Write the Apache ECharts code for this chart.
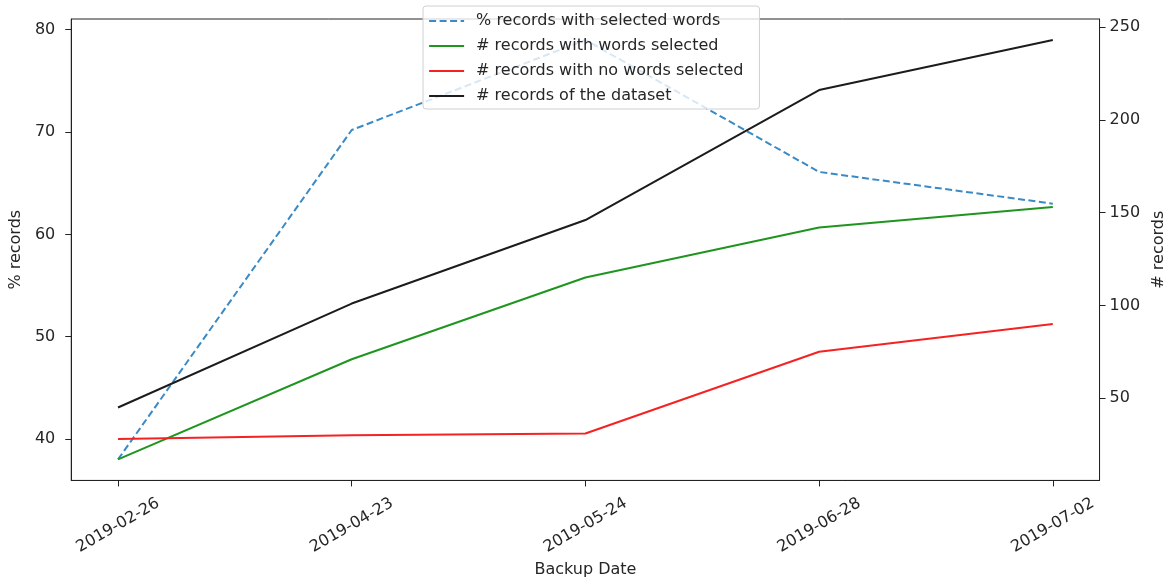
<!DOCTYPE html>
<html>
<head>
<meta charset="utf-8">
<script src="https://cdn.jsdelivr.net/npm/echarts@6/dist/echarts.min.js"></script>
<style>
  html, body { margin: 0; padding: 0; background: #fff; }
  #chart { width: 1175px; height: 583px; }
</style>
</head>
<body>
<div id="chart"></div>
<script>
// Backup snapshots of the dataset
const backupDates = ['2019-02-26', '2019-04-23', '2019-05-24', '2019-06-28', '2019-07-02'];

// Left axis: share of records that have selected words (%)
const pctWithSelected = [38.0, 70.2, 79.0, 66.1, 63.0];

// Right axis: record counts
const recordsWithWords = [17, 71, 115, 142, 153];
const recordsNoWords = [28, 30, 31, 75, 90];
const recordsTotal = [45, 101, 146, 216, 243];

// Tick values
const pctTicks = [40, 50, 60, 70, 80];
const countTicks = [50, 100, 150, 200, 250];

const FONT = 'DejaVu Sans';
const TEXT = '#262626';

// 5% padding around the data range on each axis
function padded(arrays, frac) {
  const all = [].concat(...arrays);
  const lo = Math.min(...all), hi = Math.max(...all);
  const pad = (hi - lo) * frac;
  return [lo - pad, hi + pad];
}
const [pctMin, pctMax] = padded([pctWithSelected], 0.05);
const [cntMin, cntMax] = padded([recordsWithWords, recordsNoWords, recordsTotal], 0.05);
const idx = backupDates.map((_, i) => i);
const xPad = (idx.length - 1) * 0.05;

const pairs = vals => vals.map((v, i) => [i, v]);

const chart = echarts.init(document.getElementById('chart'), null, { renderer: 'canvas' });

chart.setOption({
  animation: false,
  backgroundColor: '#fff',
  textStyle: { fontFamily: FONT, color: TEXT },
  grid: {
    left: 70, right: 72, top: 19, bottom: 101,
    show: true, borderColor: '#222', borderWidth: 1, backgroundColor: 'transparent'
  },
  legend: {
    orient: 'vertical',
    left: 423, top: 6,
    padding: [7, 16, 5, 5],
    itemWidth: 35, itemHeight: 14, itemGap: 9,
    backgroundColor: 'rgba(255,255,255,0.8)',
    borderColor: '#d0d0d0', borderWidth: 1, borderRadius: 3,
    itemStyle: { opacity: 0 },
    lineStyle: { width: 2.2 },
    textStyle: { fontFamily: FONT, fontSize: 16, color: TEXT, lineHeight: 16, padding: [0, 0, 0, 7] },
    data: [
      '% records with selected words',
      '# records with words selected',
      '# records with no words selected',
      '# records of the dataset'
    ]
  },
  xAxis: {
    type: 'value',
    min: -xPad, max: idx.length - 1 + xPad,
    name: 'Backup Date', nameLocation: 'middle', nameGap: 76,
    nameTextStyle: { fontFamily: FONT, fontSize: 16, color: TEXT },
    axisLine: { show: true, onZero: false, lineStyle: { color: '#222', width: 1 } },
    axisTick: { show: true, length: 6, customValues: idx, lineStyle: { color: '#222' } },
    axisLabel: {
      customValues: idx,
      formatter: v => backupDates[Math.round(v)],
      rotate: 30, align: 'center', verticalAlign: 'middle', margin: 45,
      fontFamily: FONT, fontSize: 16, color: TEXT
    },
    splitLine: { show: false }
  },
  yAxis: [
    {
      type: 'value', position: 'left',
      min: pctMin, max: pctMax,
      name: '% records', nameLocation: 'middle', nameGap: 44,
      nameTextStyle: { fontFamily: FONT, fontSize: 16, color: TEXT },
      axisLine: { show: true, onZero: false, lineStyle: { color: '#222', width: 1 } },
      axisTick: { show: true, length: 6, customValues: pctTicks, lineStyle: { color: '#222' } },
      axisLabel: { customValues: pctTicks, margin: 16, fontFamily: FONT, fontSize: 16, color: TEXT },
      splitLine: { show: false }
    },
    {
      type: 'value', position: 'right',
      min: cntMin, max: cntMax,
      name: '# records', nameLocation: 'middle', nameGap: 47,
      nameTextStyle: { fontFamily: FONT, fontSize: 16, color: TEXT },
      axisLine: { show: true, onZero: false, lineStyle: { color: '#222', width: 1 } },
      axisTick: { show: true, length: 6, customValues: countTicks, lineStyle: { color: '#222' } },
      axisLabel: { customValues: countTicks, margin: 10, fontFamily: FONT, fontSize: 16, color: TEXT },
      splitLine: { show: false }
    }
  ],
  series: [
    {
      name: '% records with selected words', type: 'line', yAxisIndex: 0,
      data: pairs(pctWithSelected), symbol: 'none', z: 2,
      lineStyle: { color: '#3a8ac6', width: 2, type: [7, 3.5] },
      itemStyle: { color: '#3a8ac6' }
    },
    {
      name: '# records with words selected', type: 'line', yAxisIndex: 1,
      data: pairs(recordsWithWords), symbol: 'none', z: 3,
      lineStyle: { color: '#1f951f', width: 2 },
      itemStyle: { color: '#1f951f' }
    },
    {
      name: '# records with no words selected', type: 'line', yAxisIndex: 1,
      data: pairs(recordsNoWords), symbol: 'none', z: 3,
      lineStyle: { color: '#f52222', width: 2 },
      itemStyle: { color: '#f52222' }
    },
    {
      name: '# records of the dataset', type: 'line', yAxisIndex: 1,
      data: pairs(recordsTotal), symbol: 'none', z: 3,
      lineStyle: { color: '#1c1c1c', width: 2 },
      itemStyle: { color: '#1c1c1c' }
    }
  ]
});
</script>
</body>
</html>
